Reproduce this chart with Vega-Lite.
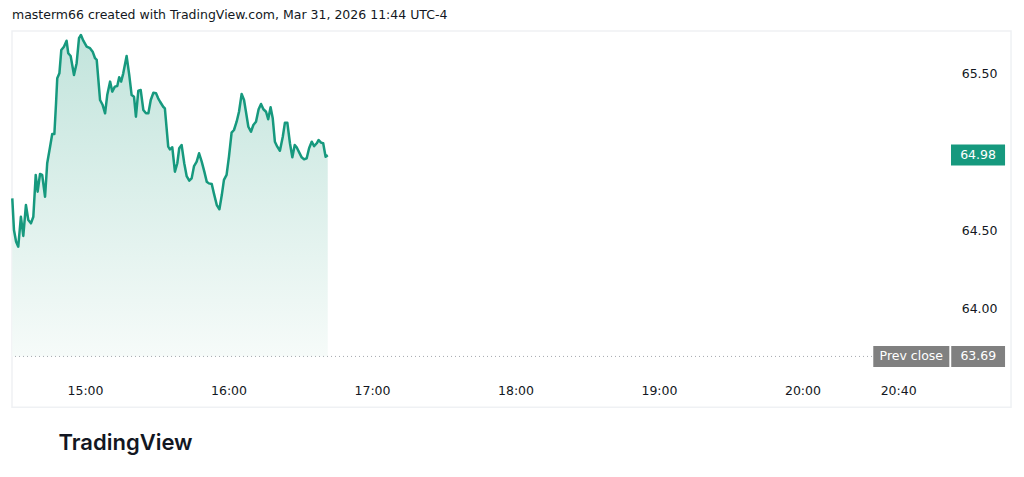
{
  "$schema": "https://vega.github.io/schema/vega-lite/v6.json",
  "width": 928,
  "height": 338,
  "autosize": "none",
  "padding": {"left": 12, "top": 32, "right": 84, "bottom": 107},
  "background": "#ffffff",
  "title": {
    "text": "masterm66 created with TradingView.com, Mar 31, 2026 11:44 UTC-4",
    "anchor": "start",
    "frame": "group",
    "font": "DejaVu Sans",
    "fontSize": 12.5,
    "fontWeight": "normal",
    "color": "#131722",
    "offset": 9
  },
  "config": {
    "view": {"stroke": null},
    "axis": {"grid": false, "domain": false, "ticks": false}
  },
  "datasets": {
    "price": [
      {"minute": 869.6, "price": 64.703},
      {"minute": 870.3, "price": 64.500},
      {"minute": 871.2, "price": 64.425},
      {"minute": 872.1, "price": 64.393},
      {"minute": 873.2, "price": 64.585},
      {"minute": 874.2, "price": 64.462},
      {"minute": 875.3, "price": 64.660},
      {"minute": 876.3, "price": 64.564},
      {"minute": 877.4, "price": 64.543},
      {"minute": 878.4, "price": 64.585},
      {"minute": 879.4, "price": 64.853},
      {"minute": 880.2, "price": 64.746},
      {"minute": 881.2, "price": 64.859},
      {"minute": 882.1, "price": 64.853},
      {"minute": 883.3, "price": 64.713},
      {"minute": 884.2, "price": 64.928},
      {"minute": 885.4, "price": 65.034},
      {"minute": 886.3, "price": 65.115},
      {"minute": 887.2, "price": 65.115},
      {"minute": 887.9, "price": 65.314},
      {"minute": 888.4, "price": 65.472},
      {"minute": 889.3, "price": 65.504},
      {"minute": 890.1, "price": 65.654},
      {"minute": 891.2, "price": 65.675},
      {"minute": 892.3, "price": 65.713},
      {"minute": 893.0, "price": 65.633},
      {"minute": 894.0, "price": 65.615},
      {"minute": 895.4, "price": 65.494},
      {"minute": 896.5, "price": 65.569},
      {"minute": 897.5, "price": 65.729},
      {"minute": 898.3, "price": 65.750},
      {"minute": 899.3, "price": 65.713},
      {"minute": 900.7, "price": 65.675},
      {"minute": 902.1, "price": 65.665},
      {"minute": 903.2, "price": 65.643},
      {"minute": 904.2, "price": 65.601},
      {"minute": 904.9, "price": 65.590},
      {"minute": 906.3, "price": 65.333},
      {"minute": 907.4, "price": 65.301},
      {"minute": 908.4, "price": 65.248},
      {"minute": 909.3, "price": 65.365},
      {"minute": 910.5, "price": 65.451},
      {"minute": 911.4, "price": 65.387},
      {"minute": 912.5, "price": 65.419},
      {"minute": 913.5, "price": 65.423},
      {"minute": 914.3, "price": 65.479},
      {"minute": 915.1, "price": 65.451},
      {"minute": 916.0, "price": 65.504},
      {"minute": 917.4, "price": 65.615},
      {"minute": 918.5, "price": 65.494},
      {"minute": 919.5, "price": 65.365},
      {"minute": 920.5, "price": 65.354},
      {"minute": 921.3, "price": 65.226},
      {"minute": 922.3, "price": 65.393},
      {"minute": 923.3, "price": 65.397},
      {"minute": 924.4, "price": 65.269},
      {"minute": 925.5, "price": 65.248},
      {"minute": 926.5, "price": 65.248},
      {"minute": 927.5, "price": 65.333},
      {"minute": 928.6, "price": 65.380},
      {"minute": 929.7, "price": 65.376},
      {"minute": 930.6, "price": 65.344},
      {"minute": 931.4, "price": 65.322},
      {"minute": 932.7, "price": 65.290},
      {"minute": 933.4, "price": 65.280},
      {"minute": 934.8, "price": 65.034},
      {"minute": 935.5, "price": 65.017},
      {"minute": 936.5, "price": 65.030},
      {"minute": 937.6, "price": 64.874},
      {"minute": 938.6, "price": 64.928},
      {"minute": 939.4, "price": 65.024},
      {"minute": 940.4, "price": 65.045},
      {"minute": 941.5, "price": 64.928},
      {"minute": 942.5, "price": 64.846},
      {"minute": 943.6, "price": 64.816},
      {"minute": 944.6, "price": 64.831},
      {"minute": 945.6, "price": 64.910},
      {"minute": 946.7, "price": 64.938},
      {"minute": 947.7, "price": 64.992},
      {"minute": 948.8, "price": 64.938},
      {"minute": 949.9, "price": 64.874},
      {"minute": 950.9, "price": 64.810},
      {"minute": 951.8, "price": 64.799},
      {"minute": 953.0, "price": 64.795},
      {"minute": 953.9, "price": 64.735},
      {"minute": 955.1, "price": 64.660},
      {"minute": 956.2, "price": 64.633},
      {"minute": 957.2, "price": 64.724},
      {"minute": 958.1, "price": 64.821},
      {"minute": 959.2, "price": 64.853},
      {"minute": 960.2, "price": 64.970},
      {"minute": 961.3, "price": 65.124},
      {"minute": 962.3, "price": 65.141},
      {"minute": 963.4, "price": 65.194},
      {"minute": 964.4, "price": 65.258},
      {"minute": 965.5, "price": 65.372},
      {"minute": 966.5, "price": 65.333},
      {"minute": 967.3, "price": 65.258},
      {"minute": 968.3, "price": 65.162},
      {"minute": 969.4, "price": 65.130},
      {"minute": 970.4, "price": 65.173},
      {"minute": 971.5, "price": 65.194},
      {"minute": 972.6, "price": 65.274},
      {"minute": 973.6, "price": 65.308},
      {"minute": 974.6, "price": 65.274},
      {"minute": 975.7, "price": 65.258},
      {"minute": 976.6, "price": 65.210},
      {"minute": 977.6, "price": 65.287},
      {"minute": 978.5, "price": 65.216},
      {"minute": 979.4, "price": 65.066},
      {"minute": 980.4, "price": 65.034},
      {"minute": 981.5, "price": 65.008},
      {"minute": 982.7, "price": 65.098},
      {"minute": 983.6, "price": 65.188},
      {"minute": 984.6, "price": 65.188},
      {"minute": 985.7, "price": 65.056},
      {"minute": 986.7, "price": 64.966},
      {"minute": 987.7, "price": 65.045},
      {"minute": 988.5, "price": 65.030},
      {"minute": 989.6, "price": 64.996},
      {"minute": 990.6, "price": 64.966},
      {"minute": 991.6, "price": 64.953},
      {"minute": 992.7, "price": 64.960},
      {"minute": 993.7, "price": 65.024},
      {"minute": 994.8, "price": 65.066},
      {"minute": 995.8, "price": 65.038},
      {"minute": 996.9, "price": 65.056},
      {"minute": 997.7, "price": 65.077},
      {"minute": 998.7, "price": 65.060},
      {"minute": 999.6, "price": 65.056},
      {"minute": 1000.6, "price": 64.970},
      {"minute": 1001.5, "price": 64.980}
    ],
    "prev": [{"label": "Prev close", "price": 63.69, "text": "63.69"}],
    "last": [{"price": 64.98, "text": "64.98"}]
  },
  "encoding": {
    "y": {
      "field": "price",
      "type": "quantitative",
      "scale": {"domain": [63.603, 65.769], "nice": false, "zero": false, "padding": 0},
      "axis": {
        "orient": "right",
        "values": [64, 64.5, 65.5],
        "format": ".2f",
        "labelFont": "DejaVu Sans",
        "labelFontSize": 12.5,
        "labelColor": "#131722",
        "labelAlign": "right",
        "labelPadding": 57,
        "title": null
      }
    }
  },
  "layer": [
    {
      "data": {"name": "last"},
      "mark": {"type": "rect", "fill": null, "stroke": "#eff1f4", "strokeWidth": 1.5},
      "encoding": {
        "x": {"datum": 869.48},
        "x2": {"datum": 1287.2},
        "y": {"datum": 65.776},
        "y2": {"datum": 63.365}
      }
    },
    {
      "data": {"name": "price"},
      "mark": {
        "type": "area",
        "color": {
          "gradient": "linear",
          "x1": 0, "y1": 0, "x2": 0, "y2": 1,
          "stops": [
            {"offset": 0, "color": "#c2e4dc"},
            {"offset": 1, "color": "#f6fbf9"}
          ]
        }
      },
      "encoding": {
        "x": {
          "field": "minute",
          "type": "quantitative",
          "scale": {"domain": [869.48, 1257.5], "nice": false, "zero": false, "padding": 0},
          "axis": {
            "values": [900, 960, 1020, 1080, 1140, 1200, 1240],
            "labelExpr": "floor(datum.value/60) + ':' + (datum.value % 60 < 10 ? '0' : '') + (datum.value % 60)",
            "labelFont": "DejaVu Sans",
            "labelFontSize": 12.5,
            "labelColor": "#131722",
            "labelPadding": 14,
            "labelFlush": false,
            "title": "TradingView",
            "titleFont": "Inter",
            "titleFontSize": 22,
            "titleFontWeight": 600,
            "titleColor": "#131722",
            "titleAnchor": "start",
            "titleAlign": "left",
            "titleBaseline": "middle",
            "titleX": 46,
            "titleY": 72
          }
        },
        "y2": {"datum": 63.69}
      }
    },
    {
      "data": {"name": "price"},
      "mark": {"type": "line", "color": "#16997e", "strokeWidth": 2.5, "strokeJoin": "round"},
      "encoding": {"x": {"field": "minute", "type": "quantitative"}}
    },
    {
      "data": {"name": "prev"},
      "mark": {"type": "rule", "color": "#a6a9b0", "strokeWidth": 1, "strokeDash": [1, 3]}
    },
    {
      "data": {"name": "prev"},
      "mark": {"type": "rule", "strokeWidth": 21, "color": "#808080", "strokeCap": "butt"},
      "encoding": {"x": {"datum": 1229.6}, "x2": {"datum": 1261.4}}
    },
    {
      "data": {"name": "prev"},
      "mark": {"type": "rule", "strokeWidth": 21, "color": "#808080", "strokeCap": "butt"},
      "encoding": {"x": {"datum": 1262.2}, "x2": {"datum": 1284.7}}
    },
    {
      "data": {"name": "prev"},
      "mark": {"type": "text", "color": "#ffffff", "font": "DejaVu Sans", "fontSize": 12.5, "baseline": "middle"},
      "encoding": {"x": {"datum": 1245.5}, "text": {"field": "label"}}
    },
    {
      "data": {"name": "prev"},
      "mark": {"type": "text", "color": "#ffffff", "font": "DejaVu Sans", "fontSize": 12.5, "baseline": "middle"},
      "encoding": {"x": {"datum": 1273.5}, "text": {"field": "text"}}
    },
    {
      "data": {"name": "last"},
      "mark": {"type": "rule", "strokeWidth": 21, "color": "#16997e", "strokeCap": "butt"},
      "encoding": {"x": {"datum": 1262.1}, "x2": {"datum": 1284.7}}
    },
    {
      "data": {"name": "last"},
      "mark": {"type": "text", "color": "#ffffff", "font": "DejaVu Sans", "fontSize": 12.5, "baseline": "middle"},
      "encoding": {"x": {"datum": 1273.4}, "text": {"field": "text"}}
    }
  ]
}
